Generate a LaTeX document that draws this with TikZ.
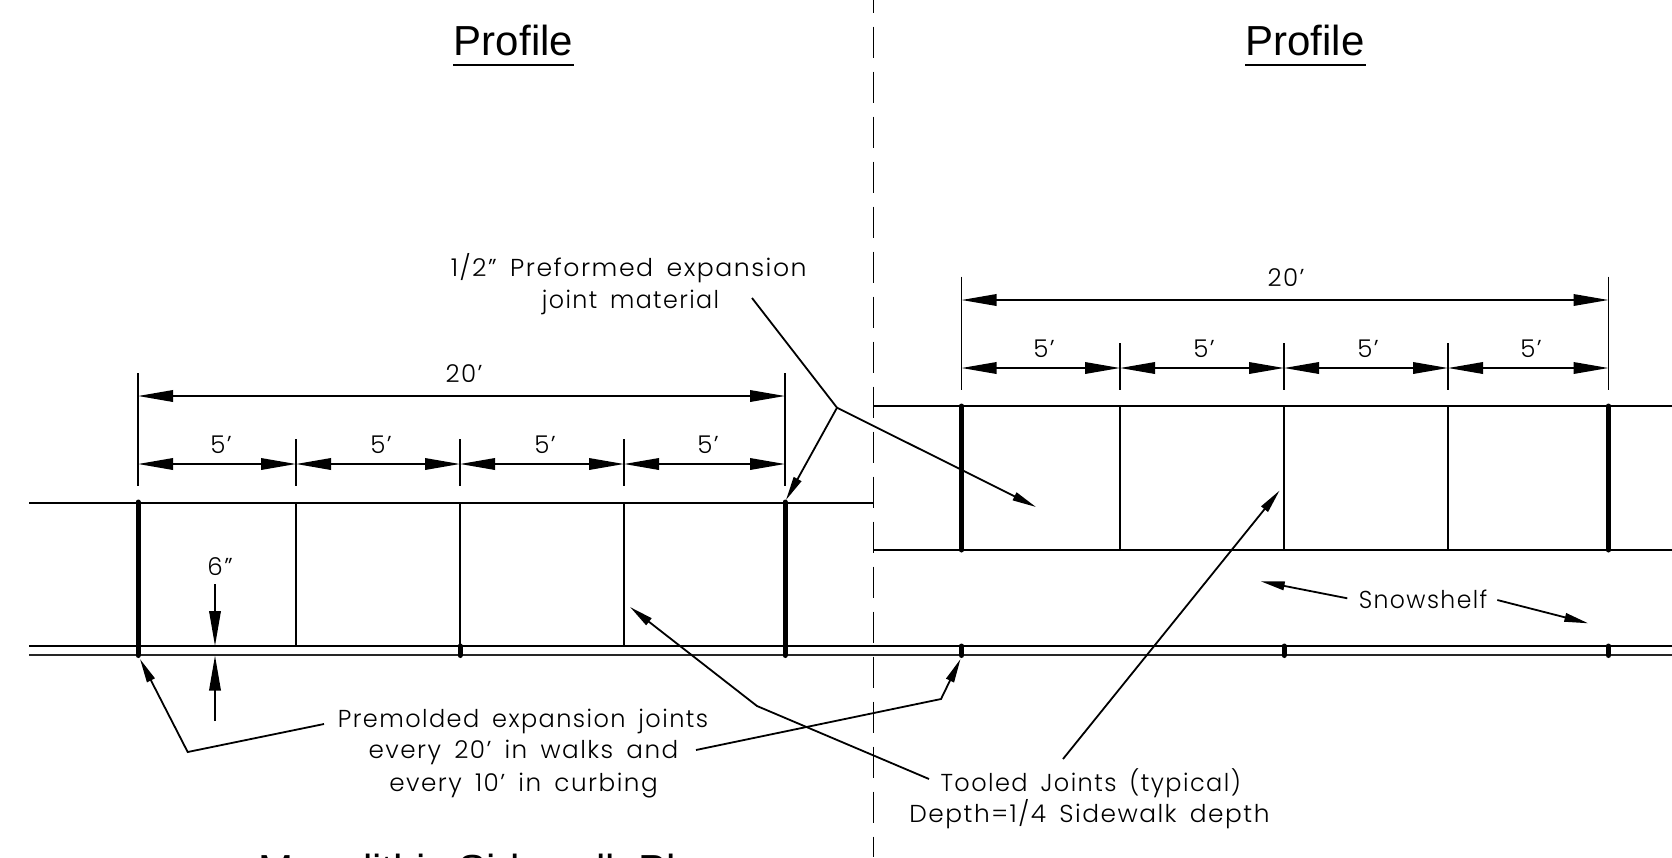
\documentclass[tikz,border=0pt]{standalone}
\usepackage{graphicx}
\usepackage{fontspec}
\setmainfont{Liberation Sans}
\newfontfamily\cadfont[LetterSpace=6,WordSpace=1.6]{Poppins Light}
\usetikzlibrary{arrows.meta}
\newcommand{\sx}[2]{\scalebox{#1}[1]{#2}}
\tikzset{
  thinln/.style={line width=1.8pt,black},
  thickjoint/.style={line width=5pt,line cap=round,black},
  dimarrow/.style={line width=1.8pt,{Triangle[length=35pt,width=11.5pt]}-{Triangle[length=35pt,width=11.5pt]}},
  singledim/.style={line width=1.8pt,-{Triangle[length=35pt,width=11.5pt]}},
  leader/.style={line width=1.8pt,-{Triangle[length=24pt,width=8.5pt]},line join=miter},
  cad/.style={inner sep=0pt,anchor=base,font=\cadfont\fontsize{24.5}{24.5}\selectfont},
  ttl/.style={inner sep=0pt,anchor=base,font=\fontsize{42}{42}\selectfont},
}
\begin{document}
\begin{tikzpicture}[x=1pt,y=-1pt]
\useasboundingbox (0,0) rectangle (1672,857);
\clip (0,0) rectangle (1672,857);
% titles
\node[ttl] (p1) at (513.5,55) {Profile};
\node[ttl] (p2) at (1305,55) {Profile};
\draw[line width=2pt] (453,64.5) -- (574,64.5);
\draw[line width=2pt] (1245,64.5) -- (1366,64.5);
\node[ttl,anchor=base west] (plan) at (258,884) {Monolithic Sidewalk Plan};
% centre line
\coordinate (ct) at (873.5,-18.5);
\coordinate (cb) at (873.5,857);
\draw[line width=1.8pt,dash pattern=on 31pt off 14pt] (ct) -- (cb);
% left slab and curb
\draw[thinln] (29,503) -- (873.5,503);
\draw[thinln] (29,646) -- (1672,646);
\draw[line width=1.8pt,black!85] (29,655.2) -- (1672,655.2);
\foreach \x in {296,460,624} \draw[thinln] (\x,503) -- (\x,646);
\foreach \x in {138,785} \draw[thickjoint] (\x,502) -- (\x,655.5);
% right slab
\draw[thinln] (873.5,406) -- (1672,406);
\draw[line width=2pt] (873.5,550) -- (1672,550);
\foreach \x in {1120,1284,1448} \draw[thinln] (\x,406) -- (\x,550);
\foreach \x in {961.5,1608.5} \draw[thickjoint] (\x,406) -- (\x,550);
% curb joints
\foreach \x in {460,961.5,1284,1608.5} \draw[line width=5pt,line cap=round] (\x,646) -- (\x,655.5);
% left dimensions
\foreach \x in {138,785} \draw[thinln] (\x,373) -- (\x,486);
\foreach \x in {296,460,624} \draw[thinln] (\x,439) -- (\x,486);
\draw[dimarrow] (138,396) -- (785,396);
\draw[dimarrow] (138,464) -- (296,464);
\draw[dimarrow] (296,464) -- (460,464);
\draw[dimarrow] (460,464) -- (624,464);
\draw[dimarrow] (624,464) -- (785,464);
\node[cad] (l20) at (464,382.5) {20’};
\node[cad] (l5a) at (221,453) {5’};
\node[cad] (l5b) at (381,453) {5’};
\node[cad] (l5c) at (545,453) {5’};
\node[cad] (l5d) at (708,453) {5’};
% right dimensions
\foreach \x in {961.5,1608.5} \draw[thinln] (\x,276.5) -- (\x,390);
\foreach \x in {1120,1284,1448} \draw[thinln] (\x,343) -- (\x,390);
\draw[dimarrow] (961.5,300) -- (1608.5,300);
\draw[dimarrow] (961.5,368) -- (1120,368);
\draw[dimarrow] (1120,368) -- (1284,368);
\draw[dimarrow] (1284,368) -- (1448,368);
\draw[dimarrow] (1448,368) -- (1608.5,368);
\node[cad] (r20) at (1286,286.5) {20’};
\node[cad] (r5a) at (1044,357) {5’};
\node[cad] (r5b) at (1204,357) {5’};
\node[cad] (r5c) at (1368,357) {5’};
\node[cad] (r5d) at (1531,357) {5’};
% 6 inch
\node[cad] (six) at (220,575) {6”};
\draw[singledim] (215,584) -- (215,646);
\draw[singledim] (215,721) -- (215,655.5);
% notes
\node[cad] (pf1) at (628.7,276.7) {\sx{1.028}{1/2” Preformed expansion}};
\node[cad] (pf2) at (630.5,308) {\sx{0.97}{joint material}};
\node[cad] (pm1) at (523,727) {\sx{0.98}{Premolded expansion joints}};
\node[cad] (pm2) at (523.5,758) {\sx{1.007}{every 20’ in walks and}};
\node[cad] (pm3) at (523.5,791) {\sx{1.008}{every 10’ in curbing}};
\node[cad] (tj1) at (1090.7,791) {\sx{0.98}{Tooled Joints (typical)}};
\node[cad] (tj2) at (1089.5,822) {\sx{1.015}{Depth=1/4 Sidewalk depth}};
\node[cad] (sn) at (1423,608) {\sx{0.96}{Snowshelf}};
% leaders: preformed
\coordinate (a0) at (752,298);
\coordinate (a1) at (837,407.7);
\coordinate (a2) at (786,500);
\coordinate (a3) at (1036,507);
\draw[line width=1.8pt] (a0) -- (a1);
\draw[leader] (a1) -- (a2);
\draw[leader] (a1) -- (a3);
% leaders: premolded
\coordinate (b0) at (324,724);
\coordinate (b1) at (187.7,752);
\coordinate (b2) at (140,659);
\draw[leader] (b0) -- (b1) -- (b2);
\coordinate (c0) at (696,750);
\coordinate (c1) at (941,699);
\coordinate (c2) at (960.5,659);
\draw[leader] (c0) -- (c1) -- (c2);
% leaders: tooled
\coordinate (d0) at (929,779);
\coordinate (d1) at (757,706);
\coordinate (d2) at (630,607);
\draw[leader] (d0) -- (d1) -- (d2);
\coordinate (e0) at (1063,759);
\coordinate (e1) at (1279.6,490.5);
\draw[leader] (e0) -- (e1);
% snowshelf
\coordinate (f0) at (1347.3,598.3);
\coordinate (f1) at (1260.7,581.3);
\coordinate (g0) at (1497.3,600);
\coordinate (g1) at (1588.3,623.3);
\draw[leader] (f0) -- (f1);
\draw[leader] (g0) -- (g1);
\end{tikzpicture}
\end{document}
